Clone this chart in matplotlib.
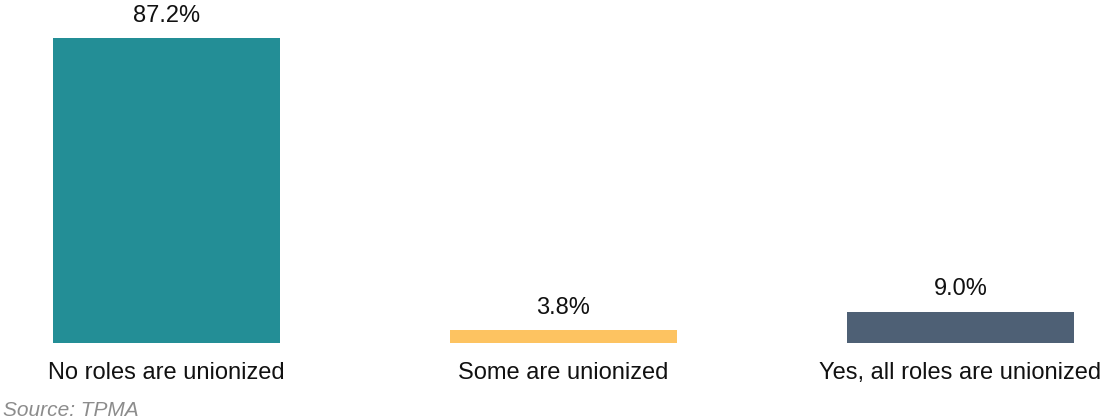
import matplotlib
matplotlib.use("Agg")
import matplotlib.pyplot as plt

categories = ["No roles are unionized", "Some are unionized", "Yes, all roles are unionized"]
values = [87.2, 3.8, 9.0]
value_labels = ["87.2%", "3.8%", "9.0%"]
colors = ["#238e96", "#fdc361", "#4e6075"]

plt.rcParams['font.family'] = ['Liberation Sans', 'DejaVu Sans']

W, H = 1103, 420
fig = plt.figure(figsize=(W / 100, H / 100), dpi=100)
base_px = 343
ax = fig.add_axes([0, (H - base_px) / H, 1, base_px / H])
x = list(range(len(categories)))
ax.bar(x, values, width=0.572, color=colors)
ax.set_xlim(-166.5 / 397, (W - 166.5) / 397)
ax.set_ylim(0, base_px / 3.5)
ax.axis('off')

for xi, v, lab in zip(x, values, value_labels):
    ax.annotate(lab, (xi, v), xytext=(0, 8), textcoords='offset points',
                ha='center', va='bottom', fontsize=17, color='#111111')

for xi, c in zip(x, categories):
    ax.annotate(c, (xi, 0), xytext=(0, -30 / 1.389), textcoords='offset points',
                ha='center', va='center', fontsize=17, color='#111111')

fig.text(3 / W, 1 - 410 / H, "Source: TPMA", ha='left', va='center',
         fontsize=15, style='italic', color='#8c8c8c')

fig.savefig("out.png", dpi=100)
